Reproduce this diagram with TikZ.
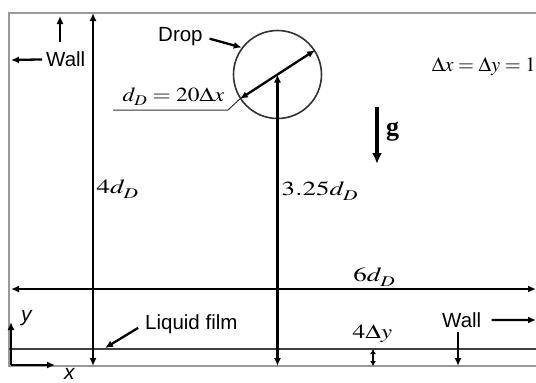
\documentclass[tikz,border=0pt]{standalone}
\usepackage{graphicx}
\usepackage{mathptmx}
\usepackage[no-math]{fontspec}
\setmainfont{Liberation Serif}
\newfontfamily\sansf{Liberation Sans}
\newcommand{\dD}{d_{\lower1.5pt\hbox{$\scriptstyle D$}}}
\newcommand{\stm}[1]{\scalebox{1.35}[1]{#1}}
\usetikzlibrary{arrows.meta}
\begin{document}
\begin{tikzpicture}[x=1pt,y=-1pt,
  arr/.style={line width=2.3pt,-{Latex[length=8pt,width=7pt]}},
  darr/.style={line width=2.3pt,{Latex[length=8pt,width=7pt]}-{Latex[length=8pt,width=7pt]}},
  sarr/.style={line width=2pt,{Latex[length=5pt,width=6pt]}-{Latex[length=5pt,width=6pt]}},
  garr/.style={line width=3.2pt,-{Latex[length=11pt,width=10pt]}},
  boxline/.style={line width=2pt,draw=black!40},
  filmline/.style={line width=2.2pt,draw=black!75},
  lbl/.style={font=\sansf\fontsize{20.5}{24}\selectfont,inner sep=0pt},
  ilbl/.style={font=\sansf\itshape\fontsize{21}{24}\selectfont,inner sep=0pt},
  mth/.style={font=\fontsize{20}{24}\selectfont,inner sep=0pt},
  leader/.style={line width=1pt,draw=black!80}]
\useasboundingbox (0,0) rectangle (536,383);
\fill[white] (0,0) rectangle (536,383);
% frame
\coordinate (TL) at (9,13);
\coordinate (TR) at (536,13);
\coordinate (BL) at (9,366);
\coordinate (BR) at (536,366);
\draw[boxline] (TR) -- (TL) -- (BL) -- (BR);
% liquid film
\coordinate (FL) at (9,349);
\coordinate (FR) at (536,349);
\draw[filmline] (FL) -- (FR);
% drop
\node[circle,draw=black!80,line width=1.6pt,minimum size=88pt,inner sep=0pt] (drop) at (277.5,74.5) {};
\draw[darr] (drop.213) -- (drop.33);
\coordinate (vb) at (277.5,366);
\draw[darr] (vb) -- (drop.center);
% 4d_D
\coordinate (a4t) at (93,13);
\coordinate (a4b) at (93,366);
\draw[darr] (a4b) -- (a4t);
% 6d_D
\coordinate (h6l) at (11,289);
\coordinate (h6r) at (536,289);
\draw[darr] (h6l) -- (h6r);
% 4 Delta y
\coordinate (s4t) at (373,349);
\coordinate (s4b) at (373,366);
\draw[sarr] (s4t) -- (s4b);
% gravity
\coordinate (gt) at (377,107);
\coordinate (gb) at (377,164);
\draw[garr] (gt) -- (gb);
% labels (math)
\node[mth,anchor=base west] (l4d) at (96.5,193.5) {\stm{$4\dD$}};
\node[mth,anchor=base west] (l325) at (281.5,195.5) {\stm{$3.25\dD$}};
\node[mth,anchor=base] (l6d) at (374.5,281.7) {\stm{$6\dD$}};
\node[mth,anchor=base] (l4dy) at (372.5,338) {\scalebox{1.27}[1]{$4\Delta y$}};
\node[mth,font=\fontsize{20.5}{24}\selectfont,anchor=base west] (ldx) at (431.7,71.5) {$\Delta x=\Delta y=1$};
\node[font=\bfseries\fontsize{26}{30}\selectfont,anchor=base west,inner sep=0pt] (lg) at (386,135) {g};
\node[mth,anchor=base west] (ldd) at (122.5,101) {\scalebox{1.17}[1]{$\dD=20\Delta x$}};
\coordinate (u1) at (113,110);
\coordinate (u2) at (228,110);
\draw[leader] (u1) -- (u2) -- (drop.213);
% sans labels
\node[lbl,anchor=base west] (wl) at (46,66.7) {Wall};
\coordinate (wlh) at (11,60);
\draw[arr,shorten <=4pt] (wl.west) -- (wlh);
\coordinate (wu1) at (60,42);
\coordinate (wu2) at (60,16);
\draw[arr] (wu1) -- (wu2);
\node[lbl,anchor=base west] (dropl) at (158,41.7) {Drop};
\draw[arr,shorten <=7pt] (dropl.east) -- (drop.143);
\node[lbl,anchor=base west] (lf) at (145,329) {Liquid film};
\coordinate (lfa) at (105,348);
\draw[arr,shorten <=8pt] (lf.west) -- (lfa);
\node[lbl,anchor=base west] (wr) at (442,327.3) {Wall};
\coordinate (wrh) at (536,320);
\draw[arr,shorten <=10pt] (wr.east) -- (wrh);
\coordinate (wd1) at (458,332);
\coordinate (wd2) at (458,366);
\draw[arr] (wd1) -- (wd2);
% axes
\coordinate (o) at (11,365);
\coordinate (oy) at (11,322);
\coordinate (ox) at (55,365);
\draw[arr] (o) -- (oy);
\draw[arr] (o) -- (ox);
\node[ilbl,anchor=base west] (ly) at (21,321) {y};
\node[ilbl,anchor=base west] (lx) at (64,379.5) {x};
\end{tikzpicture}
\end{document}
